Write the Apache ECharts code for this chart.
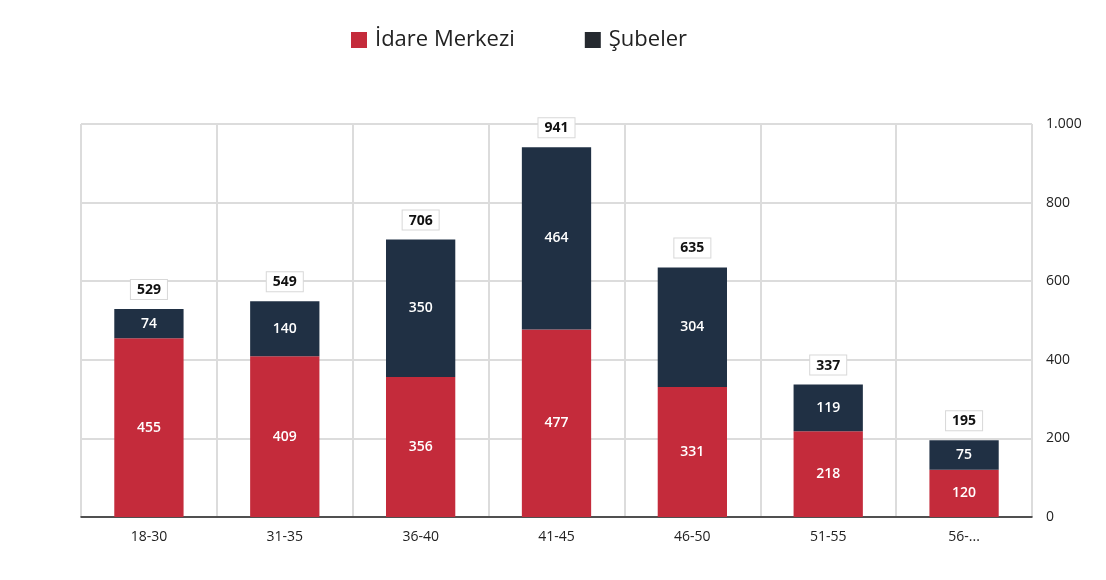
<!DOCTYPE html>
<html><head><meta charset="utf-8">
<script src="https://cdn.jsdelivr.net/npm/echarts@6/dist/echarts.min.js"></script>
<style>html,body{margin:0;padding:0;background:#fff}#c{width:1106px;height:580px}</style>
</head><body><div id="c"></div>
<script>
const categories = ['18-30','31-35','36-40','41-45','46-50','51-55','56-...'];
const idare = [455,409,356,477,331,218,120];
const subeler = [74,140,350,464,304,119,75];
const totals = [529,549,706,941,635,337,195];
const yTicks = [0,200,400,600,800,1000];

const chart = echarts.init(document.getElementById('c'));
const font = '"Open Sans", "Noto Sans", sans-serif';
chart.setOption({
  animation:false,
  textStyle:{fontFamily:font},
  legend:{
    top:24, left:346, itemGap:70, itemWidth:16, itemHeight:16, icon:'rect',
    textStyle:{fontSize:22, color:'#222', fontFamily:font, padding:[0,0,0,3]},
    data:[{name:'İdare Merkezi', itemStyle:{color:'#c42b3b'}},{name:'Şubeler', itemStyle:{color:'#25292f'}}]
  },
  grid:{left:81, right:74, top:124, bottom:63},
  xAxis:{
    type:'category', data:categories,
    axisLine:{lineStyle:{color:'#222', width:1.5}},
    axisTick:{show:false},
    axisLabel:{color:'#222', fontSize:14, margin:13},
    splitLine:{show:true, lineStyle:{color:'#dcdcdc', width:2}}
  },
  yAxis:{
    type:'value', position:'right', min:0, max:1000, interval:200,
    axisLine:{show:false}, axisTick:{show:false},
    axisLabel:{color:'#222', fontSize:14, margin:14,
      formatter:v=>v>=1000?(v/1000)+'.'+String(v%1000).padStart(3,'0'):String(v)},
    splitLine:{lineStyle:{color:'#dcdcdc', width:2}}
  },
  series:[
    {name:'İdare Merkezi', type:'bar', stack:'a', data:idare, barWidth:'51%',
     itemStyle:{color:'#c42b3b'},
     label:{show:true, position:'inside', color:'#fff', fontSize:14, fontWeight:600}},
    {name:'Şubeler', type:'bar', stack:'a', data:subeler,
     itemStyle:{color:'#203044'},
     label:{show:true, position:'inside', color:'#fff', fontSize:14, fontWeight:600}},
    {name:'total', type:'bar', stack:'a', data:totals.map(()=>0),
     itemStyle:{color:'transparent'},
     label:{show:true, position:'top', distance:10, formatter:p=>String(totals[p.dataIndex]),
       color:'#111', fontSize:14, fontWeight:'bold', backgroundColor:'#fff',
       borderColor:'#d8d8d8', borderWidth:1, padding:[3,6,2,6]}}
  ]
});
</script></body></html>
